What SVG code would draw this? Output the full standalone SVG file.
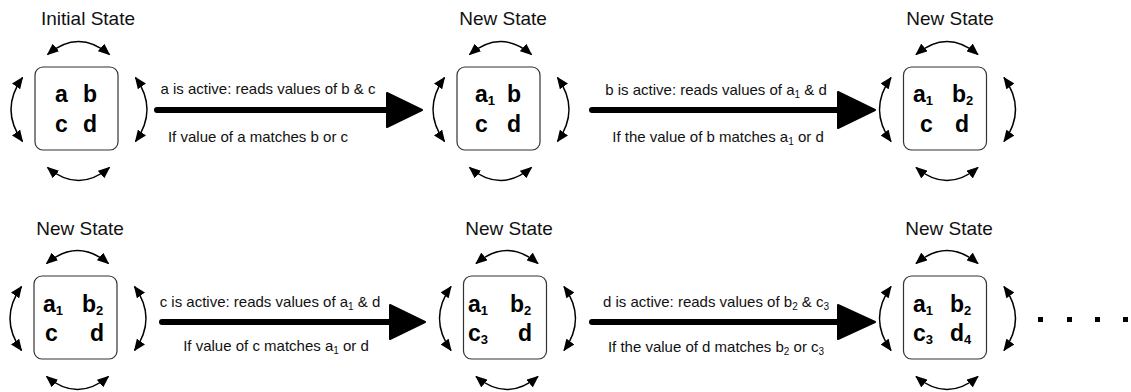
<svg xmlns="http://www.w3.org/2000/svg" width="1131" height="392" viewBox="0 0 1131 392">
  <style>
    .title { font-family: "Liberation Sans", Arial, sans-serif; font-size: 19px; fill: #111; text-anchor: middle; }
    .box { fill: #fff; stroke: #333; stroke-width: 1.2; }
    .cell { font-family: "Liberation Sans", Arial, sans-serif; font-size: 23px; font-weight: bold; fill: #000; }
    .sub { font-size: 13px; }
    .swap { fill: none; stroke: #000; stroke-width: 1.5; marker-start: url(#tip); marker-end: url(#tip); }
    .label { font-family: "Liberation Sans", Arial, sans-serif; font-size: 15px; fill: #111; text-anchor: middle; }
    .lsub { font-size: 10px; }
    .shaft { stroke: #000; stroke-width: 6; stroke-linecap: round; fill: none; }
    .head { fill: #000; stroke: #000; stroke-width: 2; stroke-linejoin: round; }
  </style>
  <defs>
    <marker id="tip" viewBox="0 0 12 10" refX="11" refY="5" markerWidth="12" markerHeight="10" markerUnits="userSpaceOnUse" orient="auto-start-reverse">
      <path d="M0,0 L12,5 L0,10 z" fill="#000"/>
    </marker>
    <!-- four curved double arrows around a state box centred at 0,0 -->
    <g id="swaps">
      <path class="swap" d="M-29,-54 Q2,-80 33,-54"/>
      <path class="swap" d="M-29,59 Q2,85 33,59"/>
      <path class="swap" d="M-54,-31 Q-77,1 -54,33"/>
      <path class="swap" d="M59,-31 Q82,1 59,33"/>
    </g>
    <rect id="frame" class="box" x="-41.5" y="-41.5" width="83" height="83" rx="8"/>
  </defs>

  <!-- state 1 -->
  <g id="state-initial">
    <text class="title" x="88" y="25">Initial State</text>
    <use href="#frame" x="76.5" y="108.5"/>
    <use href="#swaps" x="76.5" y="108.5"/>
    <text class="cell" x="55" y="102">a</text>
    <text class="cell" x="83" y="102">b</text>
    <text class="cell" x="55" y="132">c</text>
    <text class="cell" x="83" y="132">d</text>
  </g>

  <!-- state 2 -->
  <g id="state-a1">
    <text class="title" x="503" y="25">New State</text>
    <use href="#frame" x="498.5" y="108.5"/>
    <use href="#swaps" x="498.5" y="108.5"/>
    <text class="cell" x="475" y="102">a<tspan class="sub" dy="3">1</tspan></text>
    <text class="cell" x="507" y="102">b</text>
    <text class="cell" x="475" y="132">c</text>
    <text class="cell" x="507" y="132">d</text>
  </g>

  <!-- state 3 -->
  <g id="state-b2">
    <text class="title" x="950" y="25">New State</text>
    <use href="#frame" x="945" y="108.5"/>
    <use href="#swaps" x="945" y="108.5"/>
    <text class="cell" x="913" y="102">a<tspan class="sub" dy="3">1</tspan></text>
    <text class="cell" x="952" y="102">b<tspan class="sub" dy="3">2</tspan></text>
    <text class="cell" x="920" y="132">c</text>
    <text class="cell" x="955" y="132">d</text>
  </g>

  <!-- state 4 -->
  <g id="state-b2-copy">
    <text class="title" x="80" y="235">New State</text>
    <use href="#frame" x="75.5" y="317.5"/>
    <use href="#swaps" x="75.5" y="317.5"/>
    <text class="cell" x="43" y="312">a<tspan class="sub" dy="3">1</tspan></text>
    <text class="cell" x="82" y="312">b<tspan class="sub" dy="3">2</tspan></text>
    <text class="cell" x="45" y="341">c</text>
    <text class="cell" x="90" y="341">d</text>
  </g>

  <!-- state 5 -->
  <g id="state-c3">
    <text class="title" x="509" y="235">New State</text>
    <use href="#frame" x="505" y="317.5"/>
    <use href="#swaps" x="505" y="317.5"/>
    <text class="cell" x="468" y="312">a<tspan class="sub" dy="3">1</tspan></text>
    <text class="cell" x="510" y="312">b<tspan class="sub" dy="3">2</tspan></text>
    <text class="cell" x="468" y="341">c<tspan class="sub" dy="3">3</tspan></text>
    <text class="cell" x="518" y="341">d</text>
  </g>

  <!-- state 6 -->
  <g id="state-d4">
    <text class="title" x="949" y="235">New State</text>
    <use href="#frame" x="945" y="317.5"/>
    <use href="#swaps" x="945" y="317.5"/>
    <text class="cell" x="913" y="312">a<tspan class="sub" dy="3">1</tspan></text>
    <text class="cell" x="950" y="312">b<tspan class="sub" dy="3">2</tspan></text>
    <text class="cell" x="913" y="341">c<tspan class="sub" dy="3">3</tspan></text>
    <text class="cell" x="950" y="341">d<tspan class="sub" dy="3">4</tspan></text>
  </g>

  <!-- transitions -->
  <g id="connectors">
    <path class="shaft" d="M157,110 H392"/>
    <polygon class="head" points="387,93 422,110 387,127"/>
    <text class="label" x="268" y="94">a is active: reads values of b &amp; c</text>
    <text class="label" x="258" y="142">If value of a matches b or c</text>

    <path class="shaft" d="M592,110 H842"/>
    <polygon class="head" points="838,92 875,110 838,128"/>
    <text class="label" x="716" y="95">b is active: reads values of a<tspan class="lsub" dy="3">1</tspan><tspan dy="-3"> &amp; d</tspan></text>
    <text class="label" x="718" y="142">If the value of b matches a<tspan class="lsub" dy="3">1</tspan><tspan dy="-3"> or d</tspan></text>

    <path class="shaft" d="M162,322 H394"/>
    <polygon class="head" points="390,305 425,322 390,339"/>
    <text class="label" x="270" y="307">c is active: reads values of a<tspan class="lsub" dy="3">1</tspan><tspan dy="-3"> &amp; d</tspan></text>
    <text class="label" x="276" y="351">If value of c matches a<tspan class="lsub" dy="3">1</tspan><tspan dy="-3"> or d</tspan></text>

    <path class="shaft" d="M592,322 H842"/>
    <polygon class="head" points="838,305 875,322 838,339"/>
    <text class="label" x="716" y="307">d is active: reads values of b<tspan class="lsub" dy="3">2</tspan><tspan dy="-3"> &amp; c</tspan><tspan class="lsub" dy="3">3</tspan></text>
    <text class="label" x="716" y="352">If the value of d matches b<tspan class="lsub" dy="3">2</tspan><tspan dy="-3"> or c</tspan><tspan class="lsub" dy="3">3</tspan></text>
  </g>

  <!-- continuation dots -->
  <g id="ellipsis" fill="#000">
    <rect x="1038" y="317" width="5" height="5"/>
    <rect x="1067" y="317" width="5" height="5"/>
    <rect x="1095" y="317" width="5" height="5"/>
    <rect x="1123" y="317" width="5" height="5"/>
  </g>
</svg>
